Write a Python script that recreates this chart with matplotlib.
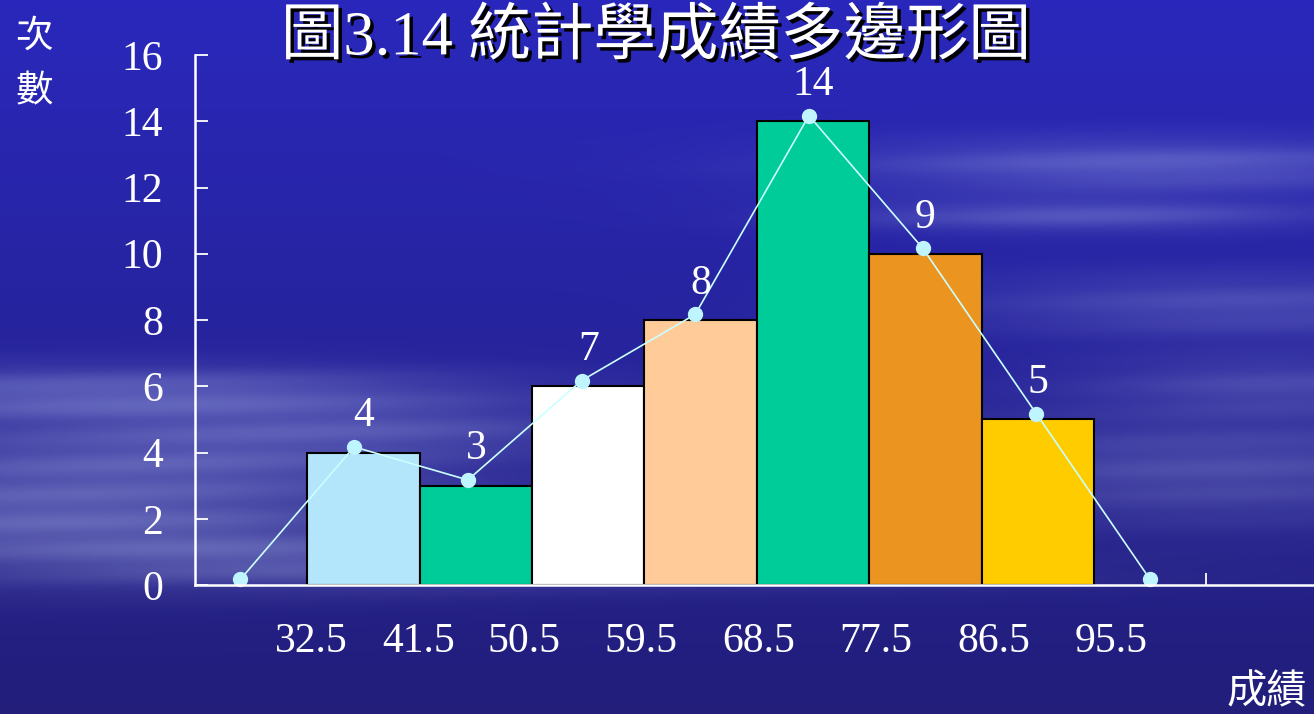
import numpy as np
import matplotlib
matplotlib.use("Agg")
import matplotlib.pyplot as plt
import matplotlib.patheffects as pe

# data
counts = [4, 3, 6, 8, 14, 10, 5]
poly_counts = [0, 4, 3, 6, 8, 14, 10, 5, 0]
value_labels = ["4", "3", "7", "8", "14", "9", "5"]
tick_labels = ["32.5", "41.5", "50.5", "59.5", "68.5", "77.5", "86.5", "95.5"]
bar_colors = ["#b3e5fb", "#00cc99", "#ffffff", "#ffcc99", "#00cc99", "#eb9420", "#ffcc00"]

W, H = 1314, 714
fig = plt.figure(figsize=(W / 100, H / 100), dpi=100)

# background: dark blue sky with soft horizontal cloud streaks
bg = fig.add_axes([0, 0, 1, 1])
yy, xx = np.mgrid[0:H, 0:W]
t = yy / H
top = np.array([42, 40, 188]) / 255
bot = np.array([34, 30, 122]) / 255
img = top[None, None, :] * (1 - t[..., None]) + bot[None, None, :] * t[..., None]
clouds = [  # cx, cy, sx, sy, strength
    (120, 395, 380, 28, 0.45),
    (60, 520, 340, 55, 0.45),
    (180, 455, 320, 35, 0.30),
    (320, 560, 260, 25, 0.25),
    (400, 430, 250, 20, 0.18),
    (1150, 165, 300, 26, 0.38),
    (1080, 215, 240, 16, 0.32),
    (1250, 305, 280, 32, 0.28),
    (1220, 470, 300, 55, 0.30),
    (1280, 385, 200, 30, 0.24),
    (700, 575, 450, 18, 0.12),
]
cl = np.zeros((H, W))
for cx, cy, sx, sy, s in clouds:
    cl += s * np.exp(-((xx - cx) / sx) ** 2 - ((yy - cy) / sy) ** 2)
cl *= 0.8 + 0.2 * np.sin(yy / 9.0 + xx / 400.0) ** 2
cl = np.clip(cl, 0, 0.6)
cloud_col = np.array([175, 185, 235]) / 255
img = img * (1 - cl[..., None]) + cloud_col[None, None, :] * cl[..., None]
bg.imshow(img, aspect="auto", extent=[0, W, H, 0])
bg.set_xlim(0, W)
bg.set_ylim(H, 0)
bg.axis("off")

# main chart axes: y-axis at x=195px, baseline at y=585px, 16 at y=55px
ax = fig.add_axes([195 / W, (H - 585) / H, 1 - 195 / W, (585 - 55) / H])
ax.set_facecolor("none")
ax.set_xlim(-1, (W - 307) / 112.4)
ax.set_ylim(0, 16)

edges = np.arange(len(counts) + 1)
centers = edges[:-1] + 0.5
ax.bar(edges[:-1], counts, width=1, align="edge", color=bar_colors,
       edgecolor="black", linewidth=1.5, zorder=2)

poly_x = np.arange(len(poly_counts)) * 1.012 - 0.596
ax.plot(poly_x, np.array(poly_counts) + 0.17, color="#ccffff", lw=1.2,
        marker="o", ms=10, mfc="#bff5ff", mec="#bff5ff", zorder=4, clip_on=False)

serif = ["Liberation Serif", "DejaVu Serif"]
for x, v, s in zip(centers, counts, value_labels):
    ax.text(x, v + 1.1, s, ha="center", va="center", color="white",
            fontsize=30, family=serif, zorder=5)

for spine in ["top", "right"]:
    ax.spines[spine].set_visible(False)
for spine in ["left", "bottom"]:
    ax.spines[spine].set_color("white")
    ax.spines[spine].set_linewidth(1.8)
    ax.spines[spine].set_zorder(6)

ax.set_yticks(np.arange(0, 17, 2))
ax.tick_params(axis="y", direction="in", length=9.5, width=1.3, color="white",
               labelcolor="white", labelsize=30, pad=23)
for lab in ax.get_yticklabels():
    lab.set_family(serif)

ax.set_xticks(edges.tolist() + [8])
ax.set_xticklabels([])
ax.tick_params(axis="x", direction="in", length=9, width=1.3, color="white", zorder=6)

label_pos = [0.036, 0.99, 1.93, 2.97, 4.02, 5.06, 6.11, 7.15]
for x, s in zip(label_pos, tick_labels):
    ax.text(x, -1.7, s, ha="center", va="center", color="white",
            fontsize=30, family=serif, clip_on=False)

# title and axis captions
cjk = ["Liberation Serif", "Noto Sans CJK TC"]
fig.text(656 / W, 1 - 39 / H, "圖3.14 統計學成績多邊形圖", ha="center", va="center",
         color="white", fontsize=45, family=cjk,
         path_effects=[pe.withSimplePatchShadow(offset=(2.5, -2.5), shadow_rgbFace="black", alpha=1)])
fig.text(34 / W, 1 - 36 / H, "次", ha="center", va="center", color="white",
         fontsize=27, family=["Noto Sans CJK TC"])
fig.text(34 / W, 1 - 92 / H, "數", ha="center", va="center", color="white",
         fontsize=27, family=["Noto Sans CJK TC"])
fig.text(1267 / W, 1 - 692 / H, "成績", ha="center", va="center", color="white",
         fontsize=29, family=["Noto Sans CJK TC"])

fig.savefig("out.png", dpi=100)
